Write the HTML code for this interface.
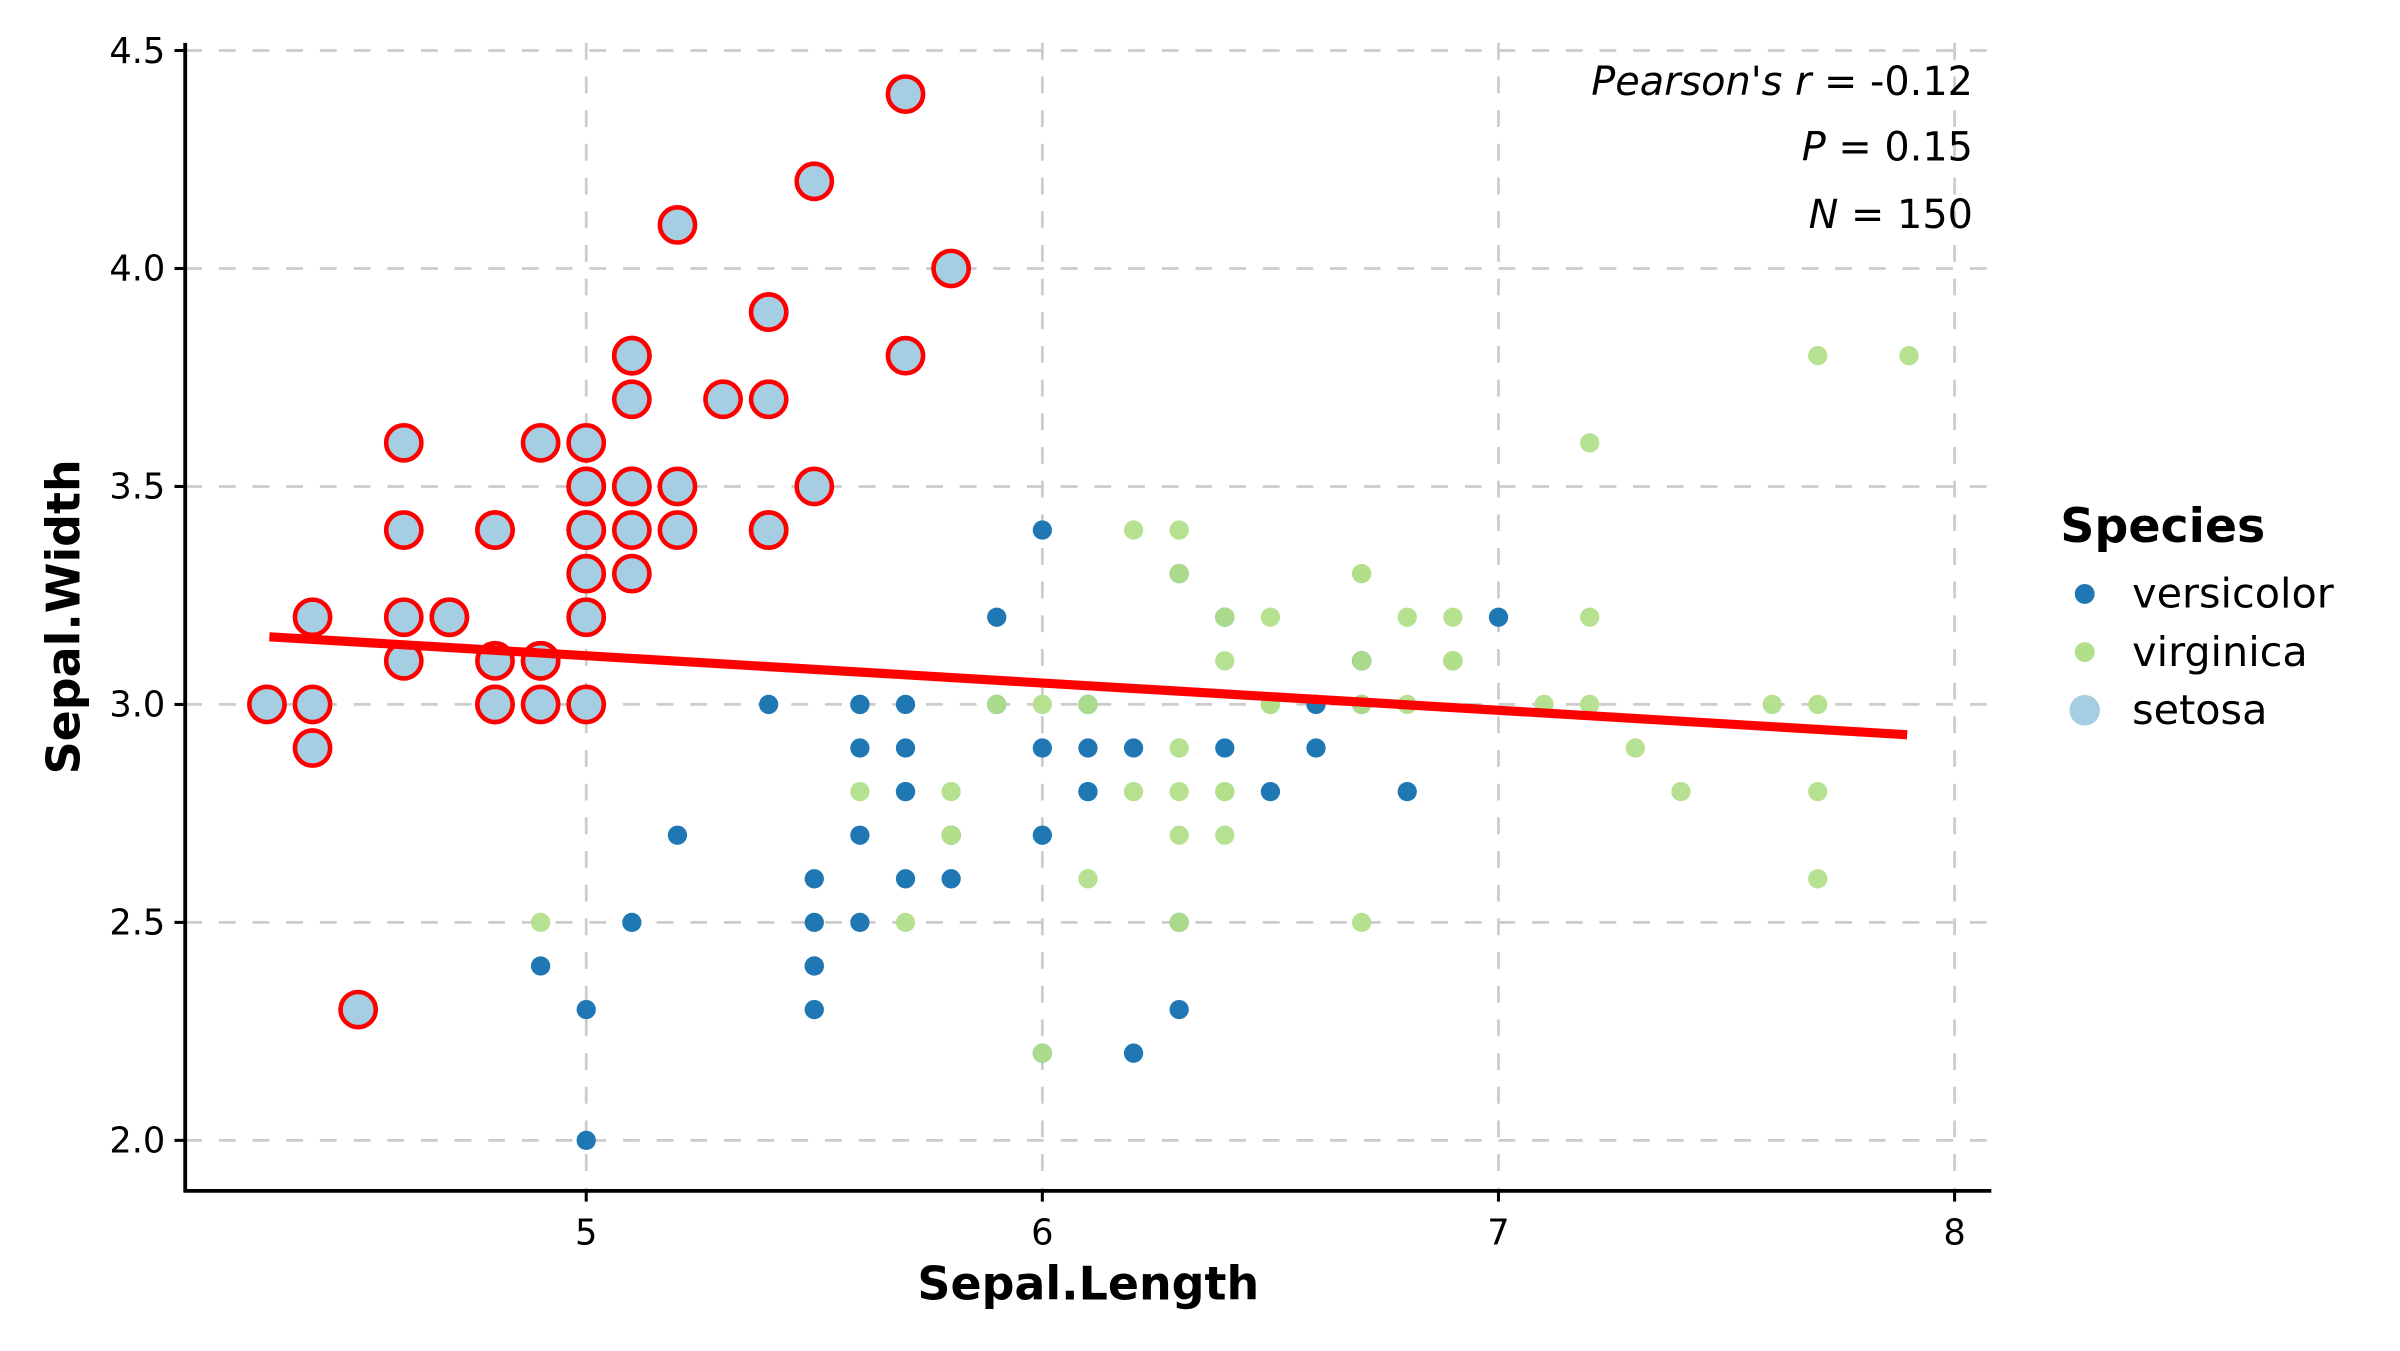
<!DOCTYPE html>
<html><head><meta charset="utf-8"><style>html,body{margin:0;padding:0;background:#fff}svg{display:block}</style></head>
<body>
<svg id="s" width="2400" height="1351" viewBox="0 0 1568 882.6" preserveAspectRatio="none" xmlns="http://www.w3.org/2000/svg" font-family="'DejaVu Sans','Liberation Sans',sans-serif">
<rect width="1568" height="883" fill="#fff"/>
<g id="grid" stroke="#cccccc" stroke-width="1.8" stroke-dasharray="11,11"></g>
<g id="pts"></g>
<line x1="176" y1="416" x2="1246" y2="480" stroke="#ff0000" stroke-width="6"/>
<line x1="121" y1="28" x2="121" y2="779" stroke="#000" stroke-width="2.5"/>
<line x1="120" y1="778" x2="1301" y2="778" stroke="#000" stroke-width="2.5"/>
<g id="ticks" stroke="#000" stroke-width="2"></g>
<g id="lbl" font-size="23" fill="#000"></g>
<text x="711" y="849" font-size="30" font-weight="bold" text-anchor="middle">Sepal.Length</text>
<text transform="translate(52,403) rotate(-90)" font-size="30" font-weight="bold" text-anchor="middle">Sepal.Width</text>
<g font-size="26" text-anchor="end">
<text x="1289" y="62"><tspan font-style="italic">Pearson's r</tspan> = -0.12</text>
<text x="1289" y="105"><tspan font-style="italic">P</tspan> = 0.15</text>
<text x="1289" y="149"><tspan font-style="italic">N</tspan> = 150</text>
</g>
<text x="1346" y="354" font-size="31" font-weight="bold">Species</text>
<circle cx="1362" cy="388" r="6.5" fill="#1f78b4"/><text x="1393" y="397" font-size="27">versicolor</text>
<circle cx="1362" cy="426" r="6.5" fill="#b2df8a"/><text x="1393" y="435" font-size="27">virginica</text>
<circle cx="1362" cy="464" r="10" fill="#a6cee3"/><text x="1393" y="473" font-size="27">setosa</text>
</svg>
<script>
const X=v=>383+(v-5)*298, Y=v=>745-(v-2)*284.8;
const ns="http://www.w3.org/2000/svg";
function el(p,t,a,txt){const e=document.createElementNS(ns,t);for(const k in a)e.setAttribute(k,a[k]);if(txt!=null)e.textContent=txt;p.appendChild(e);}
const g=document.getElementById('grid'),tk=document.getElementById('ticks'),lb=document.getElementById('lbl'),pts=document.getElementById('pts');
[5,6,7,8].forEach(v=>{el(g,'line',{x1:X(v),x2:X(v),y1:28,y2:778});el(tk,'line',{x1:X(v),x2:X(v),y1:778,y2:785});el(lb,'text',{x:X(v),y:813,'text-anchor':'middle'},String(v));});
[2,2.5,3,3.5,4,4.5].forEach(v=>{el(g,'line',{x1:121,x2:1300,y1:Y(v),y2:Y(v)});el(tk,'line',{x1:114,x2:121,y1:Y(v),y2:Y(v)});el(lb,'text',{x:108,y:Y(v)+8,'text-anchor':'end'},v.toFixed(1));});
const se="5.1,3.5;4.9,3.0;4.7,3.2;4.6,3.1;5.0,3.6;5.4,3.9;4.6,3.4;5.0,3.4;4.4,2.9;4.9,3.1;5.4,3.7;4.8,3.4;4.8,3.0;4.3,3.0;5.8,4.0;5.7,4.4;5.4,3.9;5.1,3.5;5.7,3.8;5.1,3.8;5.4,3.4;5.1,3.7;4.6,3.6;5.1,3.3;4.8,3.4;5.0,3.0;5.0,3.4;5.2,3.5;5.2,3.4;4.7,3.2;4.8,3.1;5.4,3.4;5.2,4.1;5.5,4.2;4.9,3.1;5.0,3.2;5.5,3.5;4.9,3.6;4.4,3.0;5.1,3.4;5.0,3.5;4.5,2.3;4.4,3.2;5.0,3.5;5.1,3.8;4.8,3.0;5.1,3.8;4.6,3.2;5.3,3.7;5.0,3.3";
const ve="7.0,3.2;6.4,3.2;6.9,3.1;5.5,2.3;6.5,2.8;5.7,2.8;6.3,3.3;4.9,2.4;6.6,2.9;5.2,2.7;5.0,2.0;5.9,3.0;6.0,2.2;6.1,2.9;5.6,2.9;6.7,3.1;5.6,3.0;5.8,2.7;6.2,2.2;5.6,2.5;5.9,3.2;6.1,2.8;6.3,2.5;6.1,2.8;6.4,2.9;6.6,3.0;6.8,2.8;6.7,3.0;6.0,2.9;5.7,2.6;5.5,2.4;5.5,2.4;5.8,2.7;6.0,2.7;5.4,3.0;6.0,3.4;6.7,3.1;6.3,2.3;5.6,3.0;5.5,2.5;5.5,2.6;6.1,3.0;5.8,2.6;5.0,2.3;5.6,2.7;5.7,3.0;5.7,2.9;6.2,2.9;5.1,2.5;5.7,2.8";
const vi="6.3,3.3;5.8,2.7;7.1,3.0;6.3,2.9;6.5,3.0;7.6,3.0;4.9,2.5;7.3,2.9;6.7,2.5;7.2,3.6;6.5,3.2;6.4,2.7;6.8,3.0;5.7,2.5;5.8,2.8;6.4,3.2;6.5,3.0;7.7,3.8;7.7,2.6;6.0,2.2;6.9,3.2;5.6,2.8;7.7,2.8;6.3,2.7;6.7,3.3;7.2,3.2;6.2,2.8;6.1,3.0;6.4,2.8;7.2,3.0;7.4,2.8;7.9,3.8;6.4,2.8;6.3,2.8;6.1,2.6;7.7,3.0;6.3,3.4;6.4,3.1;6.0,3.0;6.9,3.1;6.7,3.1;6.9,3.1;5.8,2.7;6.8,3.2;6.7,3.3;6.7,3.0;6.3,2.5;6.5,3.0;6.2,3.4;5.9,3.0";
const P=s=>s.split(';').map(p=>p.split(',').map(Number));
P(ve).forEach(([a,b])=>el(pts,'circle',{cx:X(a),cy:Y(b),r:6.3,fill:'#1f78b4'}));
P(vi).forEach(([a,b])=>el(pts,'circle',{cx:X(a),cy:Y(b),r:6.3,fill:'#b2df8a','fill-opacity':0.95}));
P(se).forEach(([a,b])=>el(pts,'circle',{cx:X(a),cy:Y(b),r:11.5,fill:'#a6cee3',stroke:'#ff0000','stroke-width':3}));
</script>
</body></html>
